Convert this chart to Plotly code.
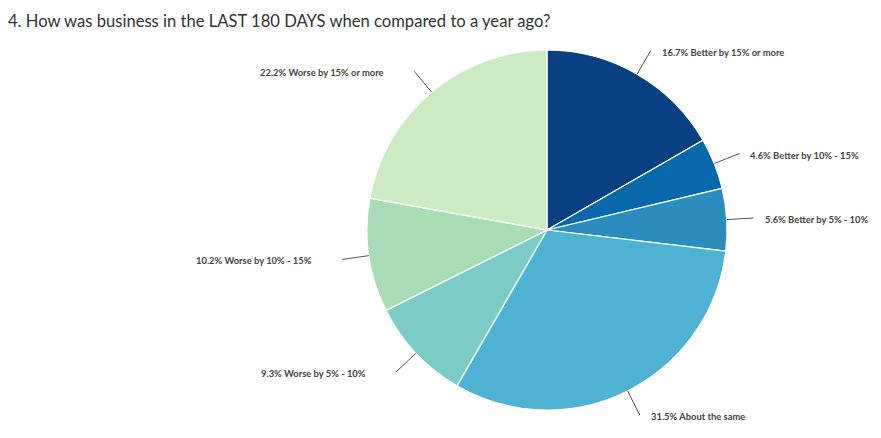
import math
import plotly.graph_objects as go

labels = ['Better by 15% or more', 'Better by 10% - 15%', 'Better by 5% - 10%',
          'About the same', 'Worse by 5% - 10%', 'Worse by 10% - 15%',
          'Worse by 15% or more']
values = [16.7, 4.6, 5.6, 31.5, 9.3, 10.2, 22.2]
colors = ['#084081', '#0868ac', '#2b8cbe', '#4eb3d3', '#7bccc4', '#a8ddb5', '#ccebc5']

# the page puts the figure 8px in from the top-left corner
OFF = 8
W, H = 881 - OFF, 438 - OFF
cx, cy, R = 547 - OFF, 230 - OFF, 180
line_len = 27

fig = go.Figure()
fig.add_pie(labels=labels, values=values, sort=False, direction='clockwise',
            marker=dict(colors=colors, line=dict(color='white', width=1.2)),
            textinfo='none', hoverinfo='label+percent', showlegend=False,
            domain=dict(x=[(cx - R) / W, (cx + R) / W],
                        y=[(H - cy - R) / H, (H - cy + R) / H]))

# leader lines and outside labels, placed from each slice's mid angle
total = sum(values)
cum = 0
for lab, v in zip(labels, values):
    a = (cum + v / 2) / total * 2 * math.pi
    cum += v
    s, c = math.sin(a), math.cos(a)
    x1, y1 = cx + R * s, cy - R * c
    x2, y2 = cx + (R + line_len) * s, cy - (R + line_len) * c
    fig.add_shape(type='line', xref='paper', yref='paper',
                  x0=x1 / W, y0=1 - y1 / H, x1=x2 / W, y1=1 - y2 / H,
                  line=dict(color='#555555', width=1))
    right = s >= 0
    tx = x2 + 9 if right else x2 - 28
    fig.add_annotation(x=tx / W, y=1 - (y2 + 1.5) / H, xref='paper', yref='paper',
                       text=f'{v}% {lab}', showarrow=False,
                       xanchor='left' if right else 'right', yanchor='middle',
                       font=dict(family='Lato', size=9.4, color='#444444', weight='bold'))

fig.update_layout(
    width=W, height=H,
    margin=dict(l=0, r=0, t=0, b=0),
    paper_bgcolor='white',
    title=dict(text='4. How was business in the LAST 180 DAYS when compared to a year ago?',
               x=0, xanchor='left', y=1 - 13 / H, yanchor='middle',
               font=dict(family='Lato', size=16.6, color='#333333')),
)

fig.write_html('out.html')
